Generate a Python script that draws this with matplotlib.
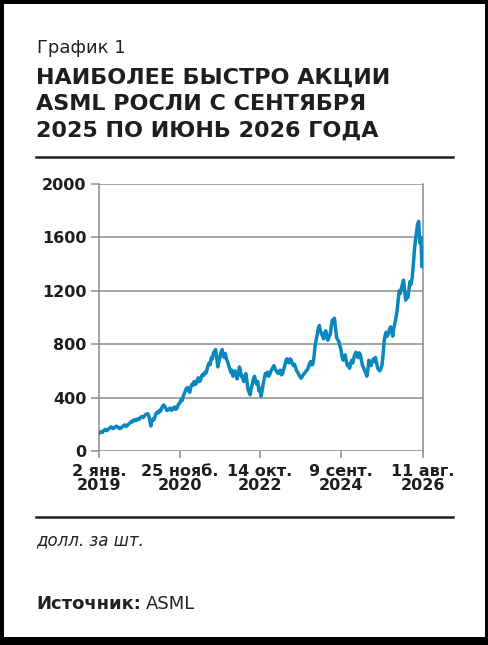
import numpy as np
import pandas as pd
import matplotlib
matplotlib.use('Agg')
import matplotlib.pyplot as plt
from matplotlib.patches import Rectangle
from datetime import datetime

# ASML share price, USD (about one value per pixel column)
prices = [
    132, 141, 145, 139, 150, 158, 162, 152, 158, 167,
    170, 181, 178, 168, 172, 181, 185, 183, 176, 168,
    170, 178, 182, 192, 195, 184, 188, 199, 205, 214,
    222, 218, 230, 234, 226, 236, 240, 236, 248, 256,
    258, 251, 262, 272, 275, 280, 265, 230, 188, 222,
    240, 235, 262, 284, 290, 286, 305, 298, 320, 338,
    345, 330, 318, 304, 308, 316, 322, 305, 310, 322,
    330, 312, 318, 340, 355, 362, 385, 378, 410, 432,
    450, 470, 475, 452, 440, 478, 500, 492, 520, 498,
    505, 530, 548, 520, 530, 560, 575, 566, 590, 582,
    610, 640, 660, 648, 700, 690, 735, 748, 760, 700,
    630, 668, 700, 742, 760, 720, 700, 730, 690, 672,
    640, 620, 590, 605, 560, 582, 600, 570, 540, 575,
    630, 600, 560, 545, 520, 560, 580, 520, 460, 440,
    420, 470, 500, 540, 560, 530, 500, 520, 450, 470,
    410, 450, 500, 540, 580, 570, 590, 560, 570, 595,
    610, 625, 640, 615, 600, 590, 580, 600, 605, 570,
    580, 610, 640, 675, 690, 665, 660, 690, 680, 655,
    640, 650, 625, 600, 590, 572, 560, 545, 555, 570,
    580, 590, 600, 610, 630, 655, 670, 645, 650, 700,
    780, 830, 870, 915, 940, 900, 880, 860, 840, 885,
    900, 860, 830, 855, 870, 930, 980, 965, 995, 920,
    850, 835, 820, 790, 760, 710, 680, 705, 720, 670,
    640, 650, 620, 655, 680, 660, 700, 725, 740, 710,
    700, 735, 720, 680, 640, 625, 600, 585, 560, 610,
    680, 655, 640, 670, 690, 670, 700, 660, 620, 610,
    600, 615, 640, 720, 820, 870, 890, 860, 880, 910,
    930, 895, 860, 920, 960, 1000, 1050, 1130, 1200, 1180,
    1220, 1250, 1280, 1200, 1130, 1170, 1150, 1210, 1270, 1250,
    1300, 1390, 1500, 1580, 1640, 1700, 1720, 1560, 1600, 1380,
    1530,
]
dates = pd.date_range('2019-01-02', '2026-08-11', periods=len(prices))

tick_dates = [datetime(2019, 1, 2), datetime(2020, 11, 25), datetime(2022, 10, 14),
              datetime(2024, 9, 9), datetime(2026, 8, 11)]
tick_labels = ['2 янв.\n2019', '25 нояб.\n2020', '14 окт.\n2022',
               '9 сент.\n2024', '11 авг.\n2026']
y_ticks = [0, 400, 800, 1200, 1600, 2000]

W, H = 489, 645
fig = plt.figure(figsize=(W / 100, H / 100), dpi=100)
fig.patch.set_facecolor('black')
# white card inside the black frame
fig.patches.append(Rectangle((4 / W, 8 / H), 481 / W, 633 / H, transform=fig.transFigure,
                             facecolor='white', edgecolor='none', zorder=-5))


def fx(x):
    return x / W


def fy(y):
    return 1 - y / H


fig.text(fx(37), fy(53), 'График 1', fontsize=13, color='#222222',
         family='DejaVu Sans', va='baseline')
title = ['НАИБОЛЕЕ БЫСТРО АКЦИИ', 'ASML РОСЛИ С СЕНТЯБРЯ', '2025 ПО ИЮНЬ 2026 ГОДА']
for i, line in enumerate(title):
    fig.text(fx(36), fy(84 + i * 26.5), line, fontsize=16, fontweight='bold',
             color='#1e1e1e', family='DejaVu Sans', va='baseline')

fig.add_artist(plt.Line2D([fx(36), fx(453)], [fy(157), fy(157)], color='#222222', lw=1.8))
fig.add_artist(plt.Line2D([fx(36), fx(453)], [fy(517), fy(517)], color='#222222', lw=1.8))

fig.text(fx(36), fy(545), 'долл. за шт.', fontsize=12, style='italic',
         color='#222222', family='DejaVu Sans', va='baseline')
src = fig.text(fx(36), fy(609), 'Источник:', fontsize=13, fontweight='bold',
               color='#222222', family='DejaVu Sans', va='baseline')
bb = src.get_window_extent(renderer=fig.canvas.get_renderer())
fig.text(fx(bb.x1 + 5), fy(609), 'ASML', fontsize=13, color='#222222',
         family='DejaVu Sans', va='baseline')

ax = fig.add_axes([fx(99), fy(451), (423 - 99) / W, (451 - 184) / H])
ax.set_facecolor('none')
ax.plot(dates, prices, color='#0a88bd', lw=2.5, solid_joinstyle='round', zorder=3)

ax.set_xlim(dates[0], dates[-1])
ax.set_ylim(0, 2000)
ax.set_yticks(y_ticks)
ax.set_yticklabels([str(v) for v in y_ticks])
ax.set_xticks(tick_dates)
ax.set_xticklabels(tick_labels, linespacing=0.95)

for s in ['top', 'bottom']:
    ax.spines[s].set_visible(False)
for s in ['left', 'right']:
    ax.spines[s].set_color('#8a8a8a')
    ax.spines[s].set_linewidth(1.1)
ax.grid(axis='y', color='#8a8a8a', lw=1.1, zorder=1)
ax.tick_params(axis='y', length=6, width=1.1, color='#8a8a8a', pad=3)
ax.tick_params(axis='x', length=5, width=1.1, color='#8a8a8a', pad=4)
for lab in ax.get_yticklabels() + ax.get_xticklabels():
    lab.set_fontsize(11.5)
    lab.set_fontweight('bold')
    lab.set_color('#1e1e1e')
    lab.set_family('DejaVu Sans')

fig.savefig('out.png', dpi=100, facecolor=fig.get_facecolor())
